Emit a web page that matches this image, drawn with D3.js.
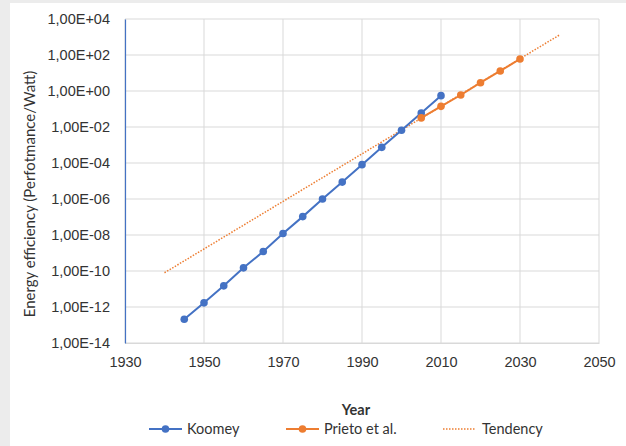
<!DOCTYPE html>
<html>
<head>
<meta charset="utf-8">
<script src="https://cdn.jsdelivr.net/npm/d3@7"></script>
<style>
  body { margin: 0; background: #ffffff; }
  svg { display: block; font-family: Lato, "Open Sans", sans-serif; }
</style>
</head>
<body>
<svg id="chart"></svg>
<script>
// data
var koomeyYears = [1945, 1950, 1955, 1960, 1965, 1970, 1975, 1980, 1985, 1990, 1995, 2000, 2005, 2010];
var koomeyValues = [2.1e-13, 1.7e-12, 1.5e-11, 1.5e-10, 1.2e-9, 1.2e-8, 1.05e-7, 1e-6, 8.7e-6, 8.1e-5, 7.4e-4, 6.6e-3, 6.0e-2, 5.5e-1];
var prietoYears = [2005, 2010, 2015, 2020, 2025, 2030];
var prietoValues = [3.2e-2, 1.4e-1, 6.0e-1, 2.9e0, 1.3e1, 6.0e1];
var tendencyYears = [1940, 2040];
var tendencyValues = [8e-11, 1.3e3];
var xTicks = [1930, 1950, 1970, 1990, 2010, 2030, 2050];
var yTicks = [1e4, 1e2, 1e0, 1e-2, 1e-4, 1e-6, 1e-8, 1e-10, 1e-12, 1e-14];
var yTickLabels = ["1,00E+04", "1,00E+02", "1,00E+00", "1,00E-02", "1,00E-04", "1,00E-06", "1,00E-08", "1,00E-10", "1,00E-12", "1,00E-14"];

var blue = "#4472c4", orange = "#ed7d31";

var W = 626, H = 446;
var margin = {top: 19, right: 27, bottom: 103, left: 125},
    width = W - margin.left - margin.right,
    height = H - margin.top - margin.bottom;

var root = d3.select("#chart").attr("width", W).attr("height", H);

// frame of the screenshot
root.append("rect").attr("x", 0).attr("y", 0).attr("width", W).attr("height", H).attr("fill", "#ececec");
root.append("rect").attr("x", 10).attr("y", 3).attr("width", W - 10).attr("height", H - 3).attr("fill", "#ffffff");

var svg = root.append("g")
    .attr("transform", "translate(" + margin.left + "," + margin.top + ")");

var x = d3.scaleLinear().domain([1930, 2050]).range([0, width]);
var y = d3.scaleLog().domain([1e-14, 1e4]).range([height, 0]);

// grid
svg.selectAll(".hgrid").data(yTicks).enter().append("line")
   .attr("x1", 0).attr("x2", width)
   .attr("y1", function(d) { return y(d); }).attr("y2", function(d) { return y(d); })
   .attr("stroke", "#d9d9d9").attr("stroke-width", 1);
svg.selectAll(".vgrid").data(xTicks).enter().append("line")
   .attr("y1", 0).attr("y2", height)
   .attr("x1", function(d) { return x(d); }).attr("x2", function(d) { return x(d); })
   .attr("stroke", "#d9d9d9").attr("stroke-width", 1);

// axes
var xAxis = svg.append("g")
   .attr("transform", "translate(0," + height + ")")
   .call(d3.axisBottom(x).tickValues(xTicks).tickFormat(d3.format("d")).tickSize(0).tickPadding(14));
xAxis.select(".domain").attr("stroke", "#d9d9d9");

var yAxis = svg.append("g")
   .call(d3.axisLeft(y).tickValues(yTicks).tickFormat(function(d, i) { return yTickLabels[i]; }).tickSize(0).tickPadding(15));
yAxis.select(".domain").attr("stroke", blue).attr("stroke-width", 1.2);

svg.selectAll(".tick text").attr("font-size", "14.5px").attr("fill", "#333333");

// tendency
var line = d3.line()
   .x(function(d) { return x(d[0]); })
   .y(function(d) { return y(d[1]); });

svg.append("path")
   .datum(d3.zip(tendencyYears, tendencyValues))
   .attr("fill", "none").attr("stroke", orange).attr("stroke-width", 1.5)
   .attr("stroke-dasharray", "1.5,1.5")
   .attr("d", line);

function series(years, values, color) {
    var pts = d3.zip(years, values);
    svg.append("path").datum(pts)
       .attr("fill", "none").attr("stroke", color).attr("stroke-width", 2)
       .attr("d", line);
    svg.selectAll(null).data(pts).enter().append("circle")
       .attr("r", 3.8)
       .attr("cx", function(d) { return x(d[0]); })
       .attr("cy", function(d) { return y(d[1]); })
       .attr("fill", color);
}
series(koomeyYears, koomeyValues, blue);
series(prietoYears, prietoValues, orange);

// axis titles
root.append("text")
    .attr("transform", "translate(35,194) rotate(-90)")
    .attr("text-anchor", "middle")
    .attr("font-size", "15px").attr("fill", "#333333")
    .text("Energy efficiency (Perfotmance/Watt)");

root.append("text")
    .attr("x", 356).attr("y", 415)
    .attr("text-anchor", "middle")
    .attr("font-size", "14.5px").attr("font-weight", "bold").attr("fill", "#333333")
    .text("Year");

// legend
var legend = [
    {name: "Koomey", color: blue, x0: 149, dotted: false},
    {name: "Prieto et al.", color: orange, x0: 286, dotted: false},
    {name: "Tendency", color: orange, x0: 443, dotted: true}
];
var lg = root.append("g").selectAll("g").data(legend).enter().append("g")
    .attr("transform", function(d) { return "translate(" + d.x0 + ",429)"; });
lg.append("line")
  .attr("x1", 0).attr("x2", 33).attr("y1", 0).attr("y2", 0)
  .attr("stroke", function(d) { return d.color; })
  .attr("stroke-width", function(d) { return d.dotted ? 1.5 : 2; })
  .attr("stroke-dasharray", function(d) { return d.dotted ? "1.5,1.5" : null; });
lg.filter(function(d) { return !d.dotted; }).append("circle")
  .attr("cx", 16.5).attr("r", 3.8).attr("fill", function(d) { return d.color; });
lg.append("text")
  .attr("x", function(d) { return d.dotted ? 39 : 38; }).attr("y", 0).attr("dy", "0.35em")
  .attr("font-size", "14.5px").attr("fill", "#333333")
  .text(function(d) { return d.name; });
</script>
</body>
</html>
